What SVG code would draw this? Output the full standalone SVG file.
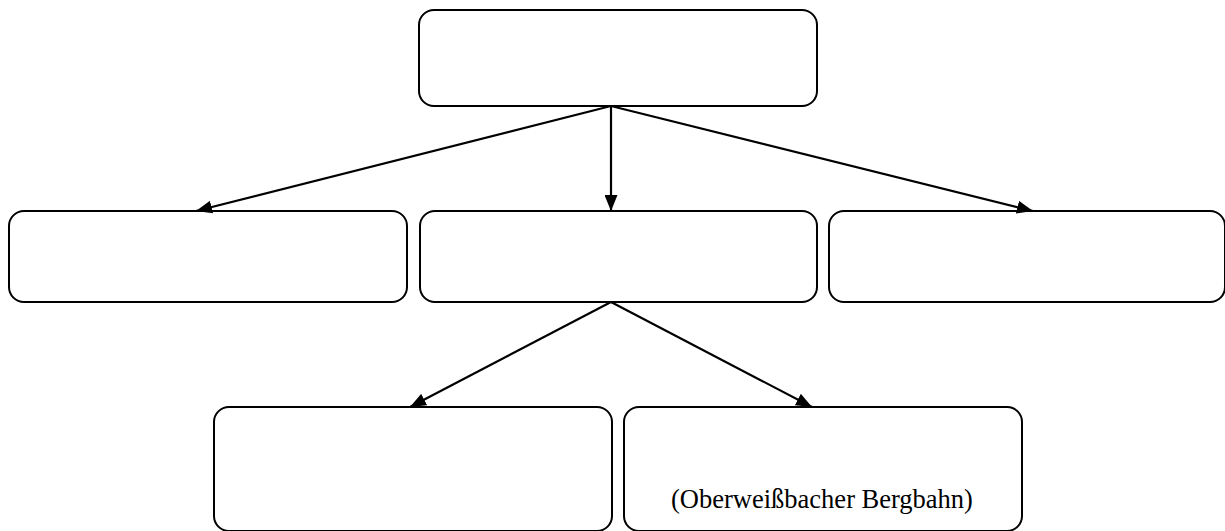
<svg xmlns="http://www.w3.org/2000/svg" width="1225" height="531" viewBox="0 0 1225 531">
<style>
.box{fill:#fff;stroke:#000;stroke-width:2}
.conn{stroke:#000;stroke-width:2.2;fill:none}
</style>
<defs>
<marker id="arr" viewBox="0 0 16 13" refX="16" refY="6.5" markerWidth="16" markerHeight="13" markerUnits="userSpaceOnUse" orient="auto">
<path d="M0,0 L16,6.5 L0,13 Z" fill="#000"/>
</marker>
</defs>
<rect width="1225" height="531" fill="#fff"/>
<g id="n-top"><rect class="box" x="419" y="10" width="398" height="96" rx="15"/></g>
<g id="n-left"><rect class="box" x="9" y="211" width="398" height="91" rx="15"/></g>
<g id="n-mid"><rect class="box" x="420" y="211" width="397" height="91" rx="15"/></g>
<g id="n-right"><rect class="box" x="829" y="211" width="396" height="91" rx="15"/></g>
<g id="n-bl"><rect class="box" x="214" y="407" width="398" height="124" rx="15"/></g>
<g id="n-br"><rect class="box" x="624" y="407" width="398" height="124" rx="15"/>
<text x="822" y="508" text-anchor="middle" font-family="Liberation Serif, serif" font-size="26.5" fill="#000">(Oberweißbacher Bergbahn)</text></g>
<g id="connectors">
<line class="conn" x1="611" y1="106" x2="196" y2="211" marker-end="url(#arr)"/>
<line class="conn" x1="611" y1="106" x2="611" y2="211" marker-end="url(#arr)"/>
<line class="conn" x1="611" y1="106" x2="1033" y2="211" marker-end="url(#arr)"/>
<line class="conn" x1="611" y1="302" x2="410" y2="407" marker-end="url(#arr)"/>
<line class="conn" x1="611" y1="302" x2="812" y2="407" marker-end="url(#arr)"/>
</g>
</svg>
